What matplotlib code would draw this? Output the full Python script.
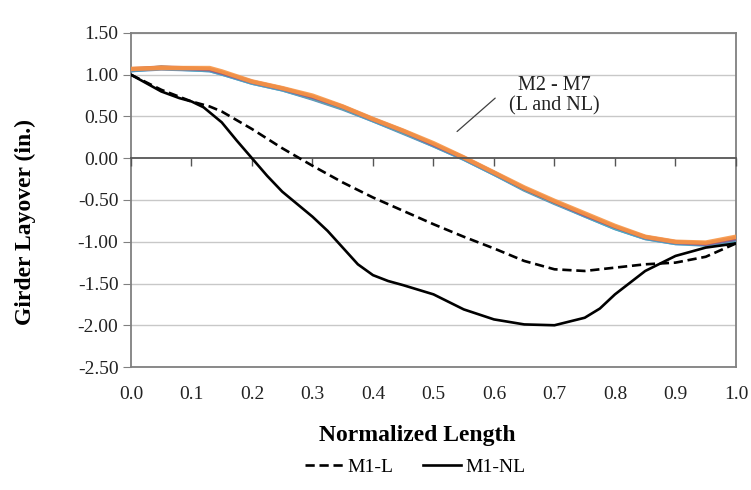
import matplotlib
matplotlib.use("Agg")
import matplotlib.pyplot as plt
from matplotlib.lines import Line2D

plt.rcParams['font.family'] = ['Liberation Serif', 'DejaVu Serif']

# M1 lines
x_m1nl = [0.0, 0.05, 0.08, 0.10, 0.12, 0.15, 0.175, 0.20, 0.225, 0.25, 0.275, 0.30,
          0.325, 0.35, 0.375, 0.40, 0.425, 0.45, 0.50, 0.55, 0.60, 0.65, 0.70, 0.75,
          0.775, 0.80, 0.85, 0.90, 0.95, 1.00]
m1_nl = [1.00, 0.80, 0.72, 0.68, 0.61, 0.43, 0.21, 0.00, -0.21, -0.40, -0.55, -0.70,
         -0.87, -1.07, -1.27, -1.40, -1.47, -1.52, -1.63, -1.81, -1.93, -1.99, -2.00,
         -1.91, -1.80, -1.63, -1.35, -1.17, -1.07, -1.02]

x_m1l = [0.0, 0.05, 0.10, 0.13, 0.15, 0.20, 0.25, 0.30, 0.35, 0.40, 0.45, 0.50, 0.55,
         0.60, 0.65, 0.70, 0.75, 0.80, 0.85, 0.90, 0.95, 1.00]
m1_l = [1.00, 0.82, 0.68, 0.62, 0.56, 0.35, 0.12, -0.09, -0.29, -0.47, -0.63, -0.79,
        -0.94, -1.08, -1.23, -1.33, -1.35, -1.31, -1.27, -1.25, -1.18, -1.02]

# M2 - M7 (L and NL)
x_m = [0.0, 0.05, 0.10, 0.13, 0.15, 0.20, 0.25, 0.30, 0.35, 0.40, 0.45, 0.50, 0.55,
       0.60, 0.65, 0.70, 0.75, 0.80, 0.85, 0.90, 0.95, 1.00]
m2 = [1.05, 1.07, 1.06, 1.05, 1.01, 0.90, 0.82, 0.71, 0.59, 0.45, 0.30, 0.15, -0.01,
      -0.19, -0.38, -0.54, -0.69, -0.84, -0.96, -1.02, -1.03, -0.99]
m3 = [1.06, 1.09, 1.07, 1.06, 1.02, 0.91, 0.83, 0.72, 0.60, 0.46, 0.31, 0.16, 0.00,
      -0.18, -0.37, -0.53, -0.68, -0.83, -0.95, -1.01, -1.02, -0.98]
m4 = [1.05, 1.08, 1.06, 1.05, 1.01, 0.90, 0.82, 0.72, 0.60, 0.45, 0.31, 0.15, -0.01,
      -0.19, -0.37, -0.53, -0.69, -0.84, -0.96, -1.02, -1.04, -1.00]
m5 = [1.06, 1.08, 1.07, 1.06, 1.02, 0.91, 0.83, 0.73, 0.61, 0.46, 0.32, 0.16, 0.00,
      -0.18, -0.36, -0.52, -0.68, -0.82, -0.95, -1.01, -1.03, -0.97]
m6 = [1.07, 1.09, 1.08, 1.07, 1.03, 0.92, 0.84, 0.74, 0.62, 0.47, 0.33, 0.17, 0.01,
      -0.17, -0.36, -0.52, -0.67, -0.82, -0.94, -1.00, -1.02, -0.95]
m7 = [1.07, 1.08, 1.08, 1.08, 1.04, 0.92, 0.84, 0.75, 0.62, 0.47, 0.33, 0.18, 0.01,
      -0.17, -0.35, -0.51, -0.66, -0.81, -0.94, -1.00, -1.01, -0.94]
bundle = [m2, m3, m4, m5, m6, m7]
bundle_colors = ['#4F81BD', '#9BBB59', '#4BACC6', '#8064A2', '#C0504D', '#F79646']

xticks = [0.0, 0.1, 0.2, 0.3, 0.4, 0.5, 0.6, 0.7, 0.8, 0.9, 1.0]
yticks = [1.5, 1.0, 0.5, 0.0, -0.5, -1.0, -1.5, -2.0, -2.5]

fig = plt.figure(figsize=(7.51, 4.90), dpi=100)
ax = fig.add_axes([0.1744, 0.251, 0.8056, 0.6817])

grey = '#808080'
for y in yticks:
    if y != 0.0:
        ax.axhline(y, color='#c8c8c8', lw=1.0, zorder=0)

ax.set_xlim(0, 1)
ax.set_ylim(-2.5, 1.5)
ax.set_xticks(xticks)
ax.set_xticklabels([f"{v:.1f}" for v in xticks])
ax.set_yticks(yticks)
ax.set_yticklabels([f"{v:.2f}" for v in yticks])
ax.tick_params(axis='x', length=0, pad=14, labelsize=14, colors='#222222')
ax.tick_params(axis='y', length=6, pad=3, labelsize=14, colors='#222222', color=grey)
for s in ax.spines.values():
    s.set_color(grey)
    s.set_linewidth(1.3)

# zero axis line with tick marks pointing down
ax2 = ax.twiny()
ax2.set_xlim(0, 1)
ax2.set_xticks(xticks)
ax2.xaxis.set_ticks_position('bottom')
ax2.spines['bottom'].set_position(('data', 0))
ax2.spines['bottom'].set_color('#555555')
ax2.spines['bottom'].set_linewidth(1.3)
for side in ['top', 'left', 'right']:
    ax2.spines[side].set_visible(False)
ax2.tick_params(axis='x', direction='out', length=6, width=1.0, color='#555555',
                labelbottom=False, labeltop=False)

for vals, c in zip(bundle, bundle_colors):
    lw = 3.2 if c == '#F79646' else 2.6
    ax2.plot(x_m, vals, color=c, lw=lw, alpha=0.9, solid_capstyle='round', zorder=2)

ax2.plot(x_m1l, m1_l, color='black', lw=1.9, linestyle=(0, (3.5, 1.8)), zorder=3)
ax2.plot(x_m1nl, m1_nl, color='black', lw=1.9, zorder=3)

ax2.annotate('', xy=(0.539, 0.32), xytext=(0.602, 0.72),
             arrowprops=dict(arrowstyle='-', color='#404040', lw=0.9, shrinkA=0, shrinkB=0))
ax2.text(0.70, 0.75, 'M2 - M7\n(L and NL)', ha='center', va='center', fontsize=14.5,
         color='#222222', linespacing=1.05)

fig.text(25 / 751, 1 - 222 / 490, 'Girder Layover (in.)', rotation=90, ha='center', va='center',
         fontsize=17, fontweight='bold')
fig.text(417 / 751, 1 - 435 / 490, 'Normalized Length', ha='center', va='center',
         fontsize=17, fontweight='bold')

handles = [Line2D([], [], color='black', lw=1.9, linestyle=(0, (3.5, 1.8))),
           Line2D([], [], color='black', lw=1.9)]
fig.legend(handles, ['M1-L', 'M1-NL'], loc='center', bbox_to_anchor=(415 / 751, 1 - 467 / 490),
           ncol=2, frameon=False, fontsize=14, handlelength=2.0, handletextpad=0.2,
           columnspacing=1.5)

fig.savefig('out.png', dpi=100)
